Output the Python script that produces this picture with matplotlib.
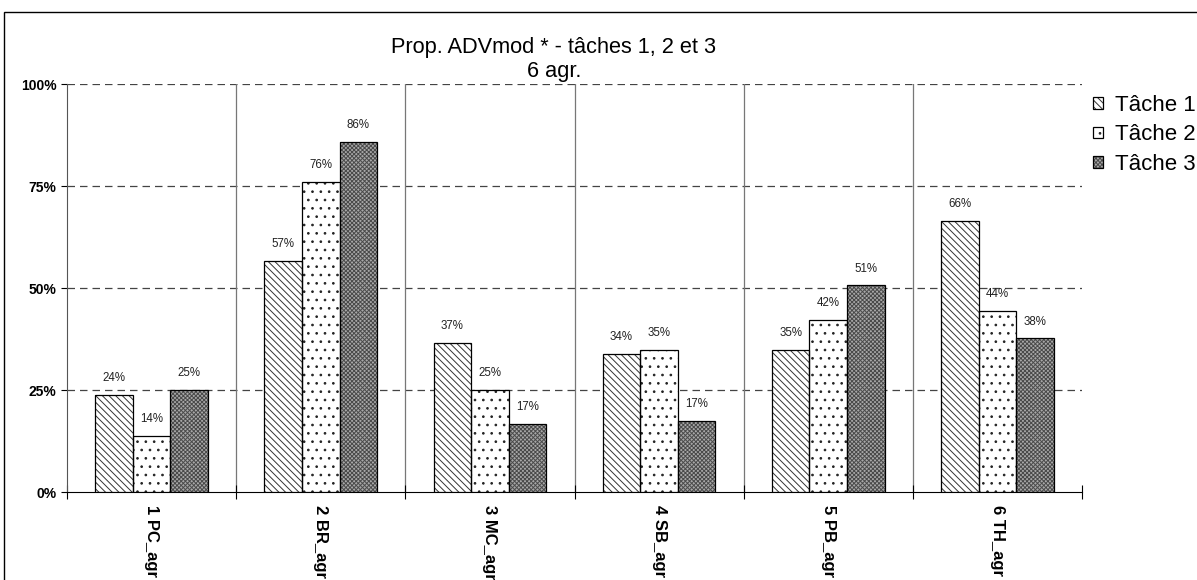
import matplotlib
matplotlib.use("Agg")
import matplotlib.pyplot as plt
import numpy as np
from matplotlib.patches import Rectangle

plt.rcParams['font.family'] = ['Liberation Sans', 'DejaVu Sans']
plt.rcParams['hatch.linewidth'] = 0.7

categories = ["1 PC_agr", "2 BR_agr", "3 MC_agr", "4 SB_agr", "5 PB_agr", "6 TH_agr"]
tache1 = [23.8, 56.6, 36.6, 33.8, 34.8, 66.4]
tache2 = [13.7, 76.0, 25.0, 34.8, 42.2, 44.4]
tache3 = [25.0, 85.8, 16.7, 17.4, 50.7, 37.7]
series_names = ["Tâche 1", "Tâche 2", "Tâche 3"]
yticks = [0, 25, 50, 75, 100]
ytick_labels = ["0%", "25%", "50%", "75%", "100%"]

fig = plt.figure(figsize=(11.97, 5.80), dpi=100)
ax = fig.add_axes([67/1197, 1-492/580, (1082-67)/1197, (492-84)/580])

x = np.arange(len(categories))
w = 0.222
styles = [
    dict(facecolor='white', hatch='\\\\\\\\\\', edgecolor='#333333'),
    dict(facecolor='white', hatch='..', edgecolor='#222222'),
    dict(facecolor='#a8a8a8', hatch='xxxxxxxx', edgecolor='#4a4a4a'),
]
series = [tache1, tache2, tache3]
handles = []
for i, (vals, st) in enumerate(zip(series, styles)):
    xs = x + (i-1)*w
    hb = ax.bar(xs, vals, w, linewidth=0, zorder=3, **st)
    ob = ax.bar(xs, vals, w, fill=False, edgecolor='black', linewidth=0.9, zorder=3.5)
    handles.append((hb.patches[0], ob.patches[0]))
    for xi, v in zip(xs, vals):
        ax.text(xi, v + 2.6, f"{v:.0f}%", ha='center', va='bottom', fontsize=8.3,
                color='#222222', zorder=4)

ax.set_xlim(-0.5, len(categories)-0.5)
ax.set_ylim(0, 100)
for yv in [25, 50, 75, 100]:
    ax.axhline(yv, color='#444444', linestyle=(0, (6, 4)), linewidth=0.9, zorder=1)
for b in np.arange(0.5, len(categories)-0.5, 1):
    ax.axvline(b, color='#777777', linewidth=0.9, zorder=1)

ax.set_yticks(yticks)
ax.set_yticklabels(ytick_labels, fontweight='bold', fontsize=10)
ax.set_xticks(np.arange(-0.5, len(categories), 1))
ax.set_xticklabels([])
ax.tick_params(axis='x', direction='inout', length=10, width=0.8)
ax.tick_params(axis='y', direction='out', length=4, width=0.8)
for xi, c in zip(x, categories):
    ax.text(xi, -3.3, c, rotation=-90, ha='center', va='top', fontsize=12,
            fontweight='bold', clip_on=False)

ax.spines['top'].set_visible(False)
ax.spines['right'].set_visible(False)
ax.spines['left'].set_color('#555555')

fig.text(554/1197, 1-47/580, "Prop. ADVmod * - tâches 1, 2 et 3", ha='center', va='center', fontsize=15.7)
fig.text(554/1197, 1-71/580, "6 agr.", ha='center', va='center', fontsize=15.7)

leg = fig.legend(handles, series_names, loc='upper left', bbox_to_anchor=(1093/1197, 1-95/580),
                 frameon=False, fontsize=16, handlelength=0.45, handleheight=0.45,
                 handletextpad=0.55, labelspacing=0.38, borderpad=0, borderaxespad=0)

fig.patches.append(Rectangle((4/1197, -0.1), 1.2, 1-12/580+0.1, transform=fig.transFigure,
                             fill=False, edgecolor='black', linewidth=1.0))

fig.savefig("out.png", dpi=100)
